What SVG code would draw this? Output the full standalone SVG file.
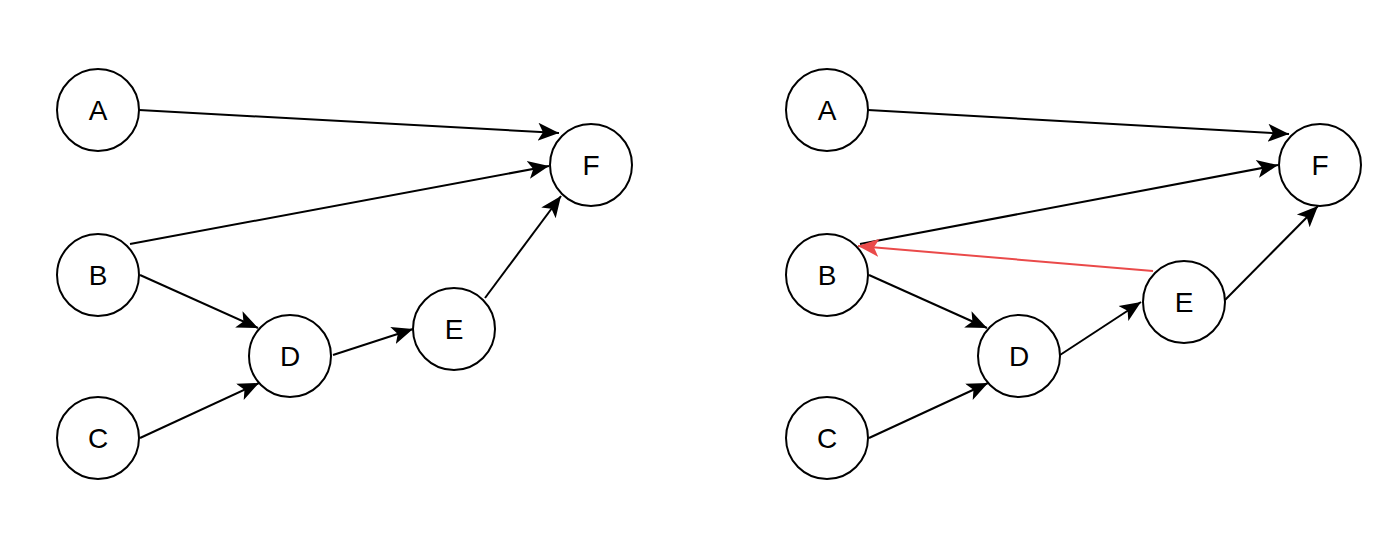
<svg xmlns="http://www.w3.org/2000/svg" width="1400" height="539" viewBox="0 0 1400 539">
<style>
.n circle{fill:#fff;stroke:#000;stroke-width:2}
.n text{font-family:"Liberation Sans",Arial,sans-serif;font-size:28px;text-anchor:middle;fill:#000}
.e line{stroke:#000;stroke-width:2;fill:none}
.e line.k{marker-end:url(#ab)}
.e line.r{stroke:#ea4a4a;marker-end:url(#ar)}
</style>
<defs>
<marker id="ab" markerUnits="userSpaceOnUse" markerWidth="24" markerHeight="24" viewBox="0 0 24 24" refX="21" refY="12" orient="auto"><path d="M0,3 L21,12 L0,21 L5,12 Z" fill="#000"/></marker>
<marker id="ar" markerUnits="userSpaceOnUse" markerWidth="24" markerHeight="24" viewBox="0 0 24 24" refX="21" refY="12" orient="auto"><path d="M0,3 L21,12 L0,21 L5,12 Z" fill="#ea4a4a"/></marker>
</defs>
<rect width="1400" height="539" fill="#fff"/>
<g id="connectors" class="e">
<line class="k" x1="139" y1="110" x2="559" y2="133"/>
<line class="k" x1="130" y1="244" x2="549" y2="166"/>
<line class="k" x1="485" y1="298" x2="561" y2="196"/>
<line class="k" x1="140" y1="275" x2="258" y2="328"/>
<line class="k" x1="140" y1="438" x2="259" y2="383"/>
<line class="k" x1="333" y1="355" x2="413" y2="329"/>
<line class="k" x1="868" y1="110" x2="1289" y2="134"/>
<line class="k" x1="860" y1="244" x2="1278" y2="165"/>
<line class="r" x1="1153" y1="271" x2="858" y2="246"/>
<line class="k" x1="869" y1="275" x2="987" y2="328"/>
<line class="k" x1="869" y1="438" x2="988" y2="383"/>
<line class="k" x1="1060" y1="355" x2="1141" y2="302"/>
<line class="k" x1="1225" y1="300" x2="1318" y2="206"/>
</g>
<g id="A1" class="n"><circle cx="98" cy="110" r="41"/><text x="98" y="120">A</text></g>
<g id="B1" class="n"><circle cx="98" cy="275" r="41"/><text x="98" y="285">B</text></g>
<g id="C1" class="n"><circle cx="98" cy="438" r="41"/><text x="98" y="448">C</text></g>
<g id="D1" class="n"><circle cx="290" cy="356" r="41"/><text x="290" y="366">D</text></g>
<g id="E1" class="n"><circle cx="454" cy="329" r="41"/><text x="454" y="339">E</text></g>
<g id="F1" class="n"><circle cx="591" cy="165" r="41"/><text x="591" y="175">F</text></g>
<g id="A2" class="n"><circle cx="827" cy="110" r="41"/><text x="827" y="120">A</text></g>
<g id="B2" class="n"><circle cx="827" cy="275" r="41"/><text x="827" y="285">B</text></g>
<g id="C2" class="n"><circle cx="827" cy="438" r="41"/><text x="827" y="448">C</text></g>
<g id="D2" class="n"><circle cx="1019" cy="356" r="41"/><text x="1019" y="366">D</text></g>
<g id="E2" class="n"><circle cx="1184" cy="302" r="41"/><text x="1184" y="312">E</text></g>
<g id="F2" class="n"><circle cx="1320" cy="165" r="41"/><text x="1320" y="175">F</text></g>
</svg>
